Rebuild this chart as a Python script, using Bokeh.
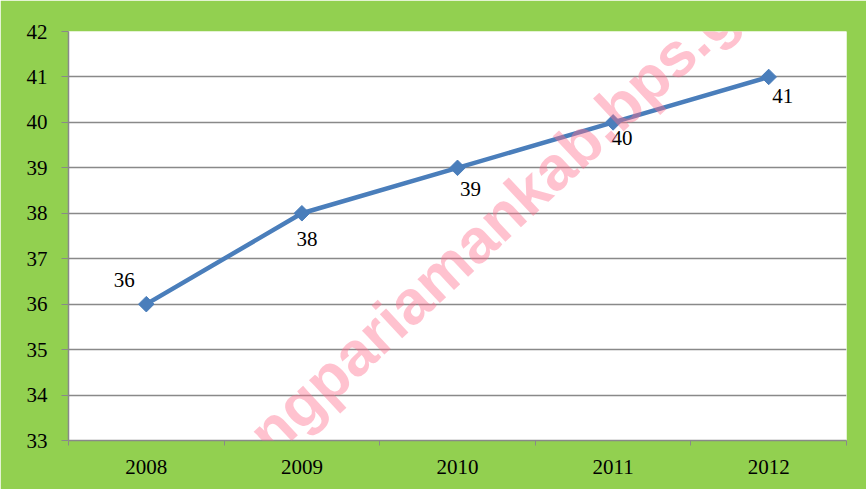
import math
from bokeh.plotting import figure
from bokeh.models import (Range1d, FixedTicker, ColumnDataSource, LabelSet, Label)
from bokeh.embed import file_html
from bokeh.resources import INLINE

# ---- data ----
years = ["2008", "2009", "2010", "2011", "2012"]
values = [36, 38, 39, 40, 41]
y_ticks = [33, 34, 35, 36, 37, 38, 39, 40, 41, 42]

# label placement (style)
label_dx = [-22, 5, 13, 9, 14]
label_dy = [24, -26, -21, -16, -19]

xs = [i + 1 for i in range(len(years))]

GREEN = "#92D050"
GRAY = "#898989"
BLUE = "#4A7EBB"
FONT = "'Liberation Serif', 'Times New Roman', serif"

p = figure(width=866, height=489, output_backend="svg", toolbar_location=None,
           x_range=Range1d(0.5, len(years) + 0.5), y_range=Range1d(33, 42),
           min_border_left=68, min_border_right=20, min_border_top=31,
           min_border_bottom=49)
p.background_fill_color = "white"
p.border_fill_color = GREEN
p.outline_line_color = None

# x axis
xt = FixedTicker(ticks=xs, minor_ticks=[x - 0.5 for x in xs] + [xs[-1] + 0.5])
p.xaxis.ticker = xt
p.xaxis.major_label_overrides = {x: y for x, y in zip(xs, years)}
p.xaxis.major_tick_line_color = None
p.xaxis.major_tick_out = 0
p.xaxis.major_tick_in = 0
p.xaxis.minor_tick_line_color = GRAY
p.xaxis.minor_tick_out = 5
p.xaxis.minor_tick_in = 0
p.xaxis.axis_line_color = GRAY
p.xaxis.axis_line_width = 1.5
p.xaxis.major_label_standoff = 14
p.xaxis.major_label_text_font = FONT
p.xaxis.major_label_text_font_size = "21px"
p.xaxis.major_label_text_color = "black"
p.xgrid.grid_line_color = None

# y axis
p.yaxis.ticker = FixedTicker(ticks=y_ticks, minor_ticks=[])
p.yaxis.major_tick_line_color = GRAY
p.yaxis.major_tick_out = 7
p.yaxis.major_tick_in = 0
p.yaxis.minor_tick_line_color = None
p.yaxis.axis_line_color = GRAY
p.yaxis.axis_line_width = 1.5
p.yaxis.major_label_standoff = 14
p.yaxis.major_label_text_font = FONT
p.yaxis.major_label_text_font_size = "21px"
p.yaxis.major_label_text_color = "black"
p.ygrid.ticker = FixedTicker(ticks=y_ticks, minor_ticks=[])
p.ygrid.grid_line_color = GRAY
p.ygrid.grid_line_width = 1.5

src = ColumnDataSource(dict(x=xs, y=values, t=[str(v) for v in values],
                            dx=label_dx, dy=label_dy))
p.line("x", "y", source=src, line_color=BLUE, line_width=4.5)
p.scatter("x", "y", source=src, marker="square", angle=math.pi / 4, size=11,
          fill_color=BLUE, line_color=BLUE)

labels = LabelSet(x="x", y="y", text="t", source=src, x_offset="dx", y_offset="dy",
                  text_align="center", text_baseline="middle",
                  text_font=FONT, text_font_size="21px", text_color="black")
p.add_layout(labels)

wm = Label(x=152, y=541, x_units="canvas", y_units="canvas",
           text="padangpariamankab.bps.go.id",
           angle=math.radians(43), text_font="'Liberation Sans', Arial, sans-serif",
           text_font_style="bold", text_font_size="62px",
           text_color="#FF6E8C", text_alpha=0.42,
           text_align="left", text_baseline="alphabetic")
p.add_layout(wm)

open("out.html", "w").write(file_html(p, INLINE))
